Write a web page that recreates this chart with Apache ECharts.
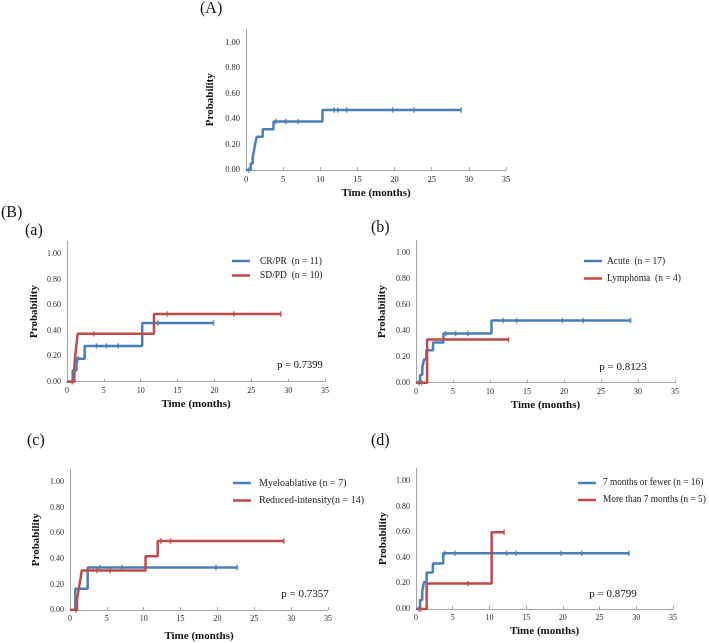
<!DOCTYPE html>
<html>
<head>
<meta charset="utf-8">
<script src="https://cdn.jsdelivr.net/npm/echarts@6/dist/echarts.min.js"></script>
<style>html,body{margin:0;padding:0;background:#fff;}#c{width:709px;height:643px;}</style>
</head>
<body>
<div id="c"></div>
<script>
// ---- data (time in months, cumulative probability) ----
const xTicks = [0, 5, 10, 15, 20, 25, 30, 35];
const yTicks = [0, 0.2, 0.4, 0.6, 0.8, 1.0];

// (A) overall
const allTimes = [0, 0.63, 0.9, 1.1, 1.25, 1.45, 2.25, 3.7, 10.3, 29.0];
const allVals  = [0, 0.05, 0.10, 0.16, 0.21, 0.26, 0.32, 0.38, 0.47, 0.47];
const allCens  = [0.35, 4.0, 5.35, 7.0, 11.85, 12.35, 13.55, 19.75, 22.6, 28.95];

// (a) response
const crprTimes = [0, 0.77, 1.3, 2.4, 10.2, 19.9];
const crprVals  = [0, 0.09, 0.18, 0.28, 0.46, 0.46];
const crprCens  = [1.5, 4.0, 5.35, 6.95, 12.35, 19.9];
const sdpdTimes = [0, 1.0, 1.2, 1.45, 11.8, 29.0];
const sdpdVals  = [0, 0.125, 0.25, 0.375, 0.53, 0.53];
const sdpdCens  = [0.72, 3.62, 13.6, 22.65, 29.0];

// (b) disease
const acuteTimes = [0, 0.55, 0.85, 1.1, 1.4, 2.3, 3.7, 10.2, 29.0];
const acuteVals  = [0, 0.06, 0.12, 0.18, 0.25, 0.31, 0.38, 0.48, 0.48];
const acuteCens  = [0.4, 4.0, 5.35, 7.0, 11.8, 13.6, 19.8, 22.6, 29.0];
const lymphTimes = [0, 1.5, 12.5];
const lymphVals  = [0, 0.333, 0.333];
const lymphCens  = [0.77, 12.5];

// (c) conditioning
const maTimes = [0, 0.72, 2.4, 22.7];
const maVals  = [0, 0.167, 0.333, 0.333];
const maCens  = [4.05, 7.05, 19.8, 22.7];
const ricTimes = [0, 0.95, 1.15, 1.38, 1.6, 10.25, 11.9, 29.0];
const ricVals  = [0, 0.077, 0.154, 0.23, 0.31, 0.42, 0.54, 0.54];
const ricCens  = [0.8, 3.66, 5.42, 12.33, 13.64, 29.0];

// (d) time to transplant
const le7Times = [0, 0.55, 0.85, 1.1, 1.45, 2.3, 3.7, 29.0];
const le7Vals  = [0, 0.07, 0.14, 0.21, 0.285, 0.355, 0.435, 0.435];
const le7Cens  = [0.4, 3.9, 5.3, 12.33, 13.6, 19.76, 22.6, 29.0];
const gt7Times = [0, 1.45, 10.3, 12.0];
const gt7Vals  = [0, 0.2, 0.6, 0.6];
const gt7Cens  = [0.63, 7.05, 12.0];

const pValues = ['p = 0.7399', 'p = 0.8123', 'p = 0.7357', 'p = 0.8799'];

// ---- styling ----
const BLUE = '#4A7EBB', RED = '#BE4B48';
const SERIF = "'Liberation Serif', 'Times New Roman', serif";

function stepVal(ts, vs, t) {
  let v = vs[0];
  for (let i = 0; i < ts.length; i++) if (ts[i] <= t + 1e-9) v = vs[i];
  return v;
}

const grids = [
  {left: 246, top: 29.5, width: 260, height: 140.5},
  {left: 67, top: 241.2, width: 258, height: 140.5},
  {left: 416, top: 240.4, width: 259, height: 142.3},
  {left: 70, top: 469.5, width: 258, height: 140.5},
  {left: 416, top: 468.2, width: 257, height: 140.8}
];
const yNameGaps = [30, 27, 28, 28, 27];
const xNameGaps = [18, 17, 17, 21, 17];
const yLabelSize = [8.5, 8, 8, 8, 8];

const xAxes = grids.map((g, i) => ({
  type: 'value', gridIndex: i, min: 0, max: 35, interval: 5,
  name: 'Time (months)', nameLocation: 'middle', nameGap: xNameGaps[i],
  nameTextStyle: {fontFamily: SERIF, fontWeight: 'bold', fontSize: 11, color: '#111'},
  axisLine: {lineStyle: {color: '#a6a6a6', width: 1}},
  axisTick: {show: true, inside: true, length: 3, lineStyle: {color: '#a6a6a6'}},
  splitLine: {show: false},
  axisLabel: {fontFamily: SERIF, fontSize: yLabelSize[i], color: '#2a2a2a', margin: 5,
    formatter: v => xTicks.includes(v) ? String(v) : ''}
}));
const yAxes = grids.map((g, i) => ({
  type: 'value', gridIndex: i, min: 0, max: 1.1, interval: 0.2,
  name: 'Probability', nameLocation: 'middle', nameGap: yNameGaps[i],
  nameTextStyle: {fontFamily: SERIF, fontWeight: 'bold', fontSize: 11, color: '#111'},
  axisLine: {show: true, lineStyle: {color: '#a6a6a6', width: 1}},
  axisTick: {show: false},
  splitLine: {show: false},
  axisLabel: {fontFamily: SERIF, fontSize: yLabelSize[i], color: '#2a2a2a', margin: 6,
    formatter: v => yTicks.some(t => Math.abs(t - v) < 1e-6) ? v.toFixed(2) : ''}
}));

const panels = [
  {idx: 0, curves: [{name: 'Overall', t: allTimes, v: allVals, c: allCens, color: BLUE}]},
  {idx: 1, curves: [
    {name: 'CR/PR  (n = 11)', t: crprTimes, v: crprVals, c: crprCens, color: BLUE},
    {name: 'SD/PD  (n = 10)', t: sdpdTimes, v: sdpdVals, c: sdpdCens, color: RED}]},
  {idx: 2, curves: [
    {name: 'Acute  (n = 17)', t: acuteTimes, v: acuteVals, c: acuteCens, color: BLUE},
    {name: 'Lymphoma  (n = 4)', t: lymphTimes, v: lymphVals, c: lymphCens, color: RED}]},
  {idx: 3, curves: [
    {name: 'Myeloablative (n = 7)', t: maTimes, v: maVals, c: maCens, color: BLUE},
    {name: 'Reduced-intensity(n = 14)', t: ricTimes, v: ricVals, c: ricCens, color: RED}]},
  {idx: 4, curves: [
    {name: '7 months or fewer (n = 16)', t: le7Times, v: le7Vals, c: le7Cens, color: BLUE},
    {name: 'More than 7 months (n = 5)', t: gt7Times, v: gt7Vals, c: gt7Cens, color: RED}]}
];

const series = [];
panels.forEach(p => {
  p.curves.forEach(cv => {
    series.push({
      type: 'line', name: cv.name, xAxisIndex: p.idx, yAxisIndex: p.idx,
      step: 'end', showSymbol: false, symbol: 'none',
      data: cv.t.map((t, k) => [t, cv.v[k]]),
      lineStyle: {color: cv.color, width: 2.5},
      itemStyle: {color: cv.color},
      z: 3
    });
    series.push({
      type: 'scatter', xAxisIndex: p.idx, yAxisIndex: p.idx,
      symbol: 'rect', symbolSize: [1.6, 5.5],
      data: cv.c.map(t => [t, stepVal(cv.t, cv.v, t)]),
      itemStyle: {color: cv.color}, z: 4, silent: true
    });
  });
});

function legendFor(p, left, top, gap, pad, size) {
  return {
    show: true, orient: 'vertical', left: left, top: top, itemGap: gap,
    itemWidth: 18, itemHeight: 2.5, icon: 'rect', padding: 0,
    data: p.curves.map(c => c.name),
    textStyle: {fontFamily: SERIF, fontSize: size, color: '#222', padding: [0, 0, 0, pad]},
    selectedMode: false
  };
}

const legends = [
  legendFor(panels[1], 232, 256, 4.5, 5, 9.5),
  legendFor(panels[2], 584, 256, 7.5, 0, 9.5),
  legendFor(panels[3], 233, 478, 7.5, 3, 10),
  legendFor(panels[4], 578, 478.5, 8, 2, 9.3)
];

const txt = (x, y, s, size, align) => ({
  type: 'text', x: x, y: y,
  style: {text: s, fontFamily: SERIF, fontSize: size, fill: '#111', textAlign: align || 'left', textVerticalAlign: 'middle'}
});

const graphics = [
  txt(200, 9, '(A)', 16),
  txt(1, 213, '(B)', 16),
  txt(25, 231, '(a)', 16),
  txt(371, 228, '(b)', 16),
  txt(27, 441, '(c)', 16),
  txt(371, 441, '(d)', 16),
  txt(300, 365, pValues[0], 10.5, 'center'),
  txt(623, 367, pValues[1], 11, 'center'),
  txt(305, 594, pValues[2], 11, 'center'),
  txt(613, 594, pValues[3], 11, 'center')
];

const chart = echarts.init(document.getElementById('c'), null, {renderer: 'canvas'});
chart.setOption({
  backgroundColor: '#fff',
  animation: false,
  grid: grids.map(g => Object.assign({containLabel: false}, g)),
  xAxis: xAxes,
  yAxis: yAxes,
  legend: legends,
  graphic: graphics,
  series: series
});
</script>
</body>
</html>
